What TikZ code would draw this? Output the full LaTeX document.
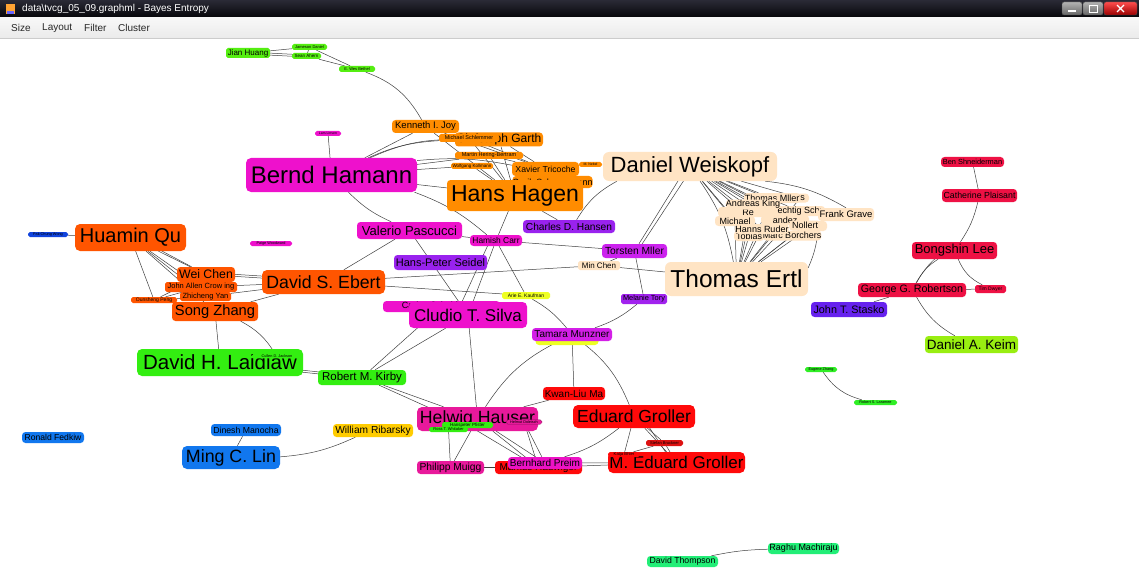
\documentclass[tikz,border=0pt]{standalone}
\usepackage{fontspec}
\setmainfont{Liberation Sans}
\usetikzlibrary{backgrounds}
\pgfdeclarelayer{canvas}
\pgfdeclarelayer{links}
\pgfsetlayers{canvas,links,main}
\newcommand\fsz[1]{\fontsize{#1}{#1}\selectfont}

\definecolor{cOrange}{HTML}{FF8C00}
\definecolor{cRedOr}{HTML}{FF5500}
\definecolor{cMag}{HTML}{EE11CC}
\definecolor{cPink}{HTML}{E8199B}
\definecolor{cPurple}{HTML}{9922EE}
\definecolor{cViolet}{HTML}{CC22EE}
\definecolor{cPeach}{HTML}{FFE4C4}
\definecolor{cGreen}{HTML}{33EE11}
\definecolor{cGreenB}{HTML}{55EE11}
\definecolor{cSpring}{HTML}{22EE77}
\definecolor{cRed}{HTML}{FF0A0A}
\definecolor{cDarkRed}{HTML}{DD1111}
\definecolor{cCrimson}{HTML}{EE1144}
\definecolor{cLime}{HTML}{99EE11}
\definecolor{cBlue}{HTML}{1177EE}
\definecolor{cNavy}{HTML}{1144DD}
\definecolor{cIndigo}{HTML}{6622EE}
\definecolor{cGold}{HTML}{FFCC00}
\definecolor{cYellow}{HTML}{EEFF22}
\definecolor{cEdge}{HTML}{404040}
\definecolor{cBarTop}{HTML}{2A2A36}
\definecolor{cBarBot}{HTML}{050508}

\begin{document}
\begin{tikzpicture}[x=1pt,y=-1pt,
  box/.style={rounded corners=3.5pt, inner sep=0pt, text=black, align=center},
  sbox/.style={box, rounded corners=1.8pt},
  ed/.style={draw=cEdge, line width=0.5pt},
  menu/.style={font=\fsz{10}, text=black!85, anchor=west, inner sep=0pt},
]
\useasboundingbox (0,0) rectangle (1139,572);
\begin{pgfonlayer}{canvas}
  \fill[white] (0,0) rectangle (1139,572);
\end{pgfonlayer}

% ---------- window frame ----------
\shade[top color=cBarTop, bottom color=cBarBot] (0,0) rectangle (1139,18);
\node[inner sep=0pt, anchor=west, text=white, font=\fsz{10}] (wtitle) at (22,9) {data\textbackslash tvcg\_05\_09.graphml - Bayes Entropy};
\fill[cOrange!80] (6,4) rectangle (15,14);
\fill[blue!60] (7,11) rectangle (14,14);
\shade[top color=black!30, bottom color=black!60, rounded corners=2pt, draw=black!70] (1062,2) rectangle (1082,15);
\shade[top color=black!30, bottom color=black!60, rounded corners=2pt, draw=black!70] (1083,2) rectangle (1103,15);
\shade[top color=red!70, bottom color=red!60!black, rounded corners=2pt, draw=black!70] (1104,2) rectangle (1137,15);
\draw[white, line width=1.2pt] (1068,11) -- (1076,11);
\draw[white, line width=0.8pt] (1089,5) rectangle (1097,12);
\draw[white, line width=1.2pt] (1117,5) -- (1124,12) (1117,12) -- (1124,5);
\shade[top color=white!97!black, bottom color=black!8] (0,18) rectangle (1139,38);
\draw[black!20] (0,38) -- (1139,38);
\node[menu] (mSize) at (11,28) {Size};
\node[menu] (mLayout) at (42,28) {Layout};
\node[menu] (mFilter) at (84,28) {Filter};
\node[menu] (mCluster) at (118,28) {Cluster};

% ---------- nodes ----------
% top green group
\node[sbox, fill=cGreenB, minimum width=44pt, minimum height=10pt, font=\fsz{8}] (jian) at (248,53) {Jian Huang};
\node[sbox, fill=cGreenB, minimum width=35pt, minimum height=6pt, font=\fsz{4}] (jameson) at (309.5,47) {Jameson Daniel};
\node[sbox, fill=cGreenB, minimum width=29pt, minimum height=6pt, font=\fsz{4.5}] (ahern) at (306.5,56) {Sean Ahern};
\node[sbox, fill=cGreenB, minimum width=36pt, minimum height=6pt, font=\fsz{4}] (bethel) at (357,69) {E. Wes Bethel};

% orange group
\node[box, fill=cOrange, minimum width=67pt, minimum height=13pt, font=\fsz{9.5}] (joy) at (425.5,126.5) {Kenneth I. Joy};
\node[box, fill=cOrange, minimum width=88pt, minimum height=14pt, font=\fsz{12}] (garth) at (499,139.5) {Christoph Garth};
\node[sbox, fill=cOrange, minimum width=60pt, minimum height=8pt, font=\fsz{5.5}] (schlemmer) at (469,138) {Michael Schlemmer};
\node[sbox, fill=cOrange, minimum width=68pt, minimum height=7pt, font=\fsz{5.5}] (hering) at (489,155.5) {Martin Hering-Bertram};
\node[sbox, fill=cOrange, minimum width=42pt, minimum height=6pt, font=\fsz{4.5}] (kollmann) at (472,166) {Wolfgang Kollmann};
\node[box, fill=cOrange, minimum width=79pt, minimum height=12pt, font=\fsz{9}] (scheuer) at (552.5,182) {Gerik Scheuermann};
\node[box, fill=cOrange, minimum width=67pt, minimum height=14pt, font=\fsz{8.7}] (tricoche) at (545.5,169) {Xavier Tricoche};
\node[sbox, fill=cOrange, minimum width=23pt, minimum height=5pt, font=\fsz{3.5}] (nebel) at (590.5,164.5) {M. Nebel};
\node[box, fill=cOrange, minimum width=136pt, minimum height=31pt, font=\fsz{23}] (hagen) at (515,195.5) {Hans Hagen};

% magenta / purple centre
\node[sbox, fill=cMag, minimum width=26pt, minimum height=5pt, font=\fsz{3.5}] (linsen) at (328,133.5) {Lars Linsen};
\node[box, rounded corners=5pt, fill=cMag, minimum width=171pt, minimum height=34pt, font=\fsz{24}] (hamann) at (331.5,175) {Bernd Hamann};
\node[box, fill=cMag, minimum width=105pt, minimum height=17pt, font=\fsz{13}] (pascucci) at (409.5,230.5) {Valerio Pascucci};
\node[box, fill=cMag, minimum width=52pt, minimum height=11pt, font=\fsz{8.4}] (carr) at (496,240.5) {Hamish Carr};
\node[sbox, fill=cMag, minimum width=42pt, minimum height=5pt, font=\fsz{3.8}] (woodward) at (271,243.5) {Paige Woodward};
\node[box, fill=cPurple, minimum width=93pt, minimum height=15pt, font=\fsz{11}] (seidel) at (440.5,262.5) {Hans-Peter Seidel};
\node[box, fill=cPurple, minimum width=92pt, minimum height=13pt, font=\fsz{10.2}] (hansen) at (569,226.5) {Charles D. Hansen};
\node[box, fill=cViolet, minimum width=65pt, minimum height=14pt, font=\fsz{10.3}] (torsten) at (634.5,251) {Torsten Mller};
\node[sbox, fill=cPeach, minimum width=42pt, minimum height=9pt, font=\fsz{8}] (minchen) at (599,265.5) {Min Chen};
\node[sbox, fill=cYellow, minimum width=48pt, minimum height=7pt, font=\fsz{5}] (kaufman) at (526,295.5) {Arie E. Kaufman};
\node[sbox, fill=cPurple!85!cViolet, minimum width=46pt, minimum height=10pt, font=\fsz{7.4}] (melanie) at (644,299) {Melanie Tory};
\node[box, fill=cMag, minimum width=117pt, minimum height=11pt, font=\fsz{9}] (scheidegger) at (441.5,306.5) {Carlos Scheidegger};
\node[box, rounded corners=4.5pt, fill=cMag, minimum width=118pt, minimum height=26pt, font=\fsz{17}] (silva) at (468,315) {Cludio T. Silva};
\node[box, fill=cYellow, minimum width=63pt, minimum height=10pt] (ystrip) at (567,340) {};
\node[box, fill=cViolet!80!cMag, minimum width=80pt, minimum height=13pt, font=\fsz{10}] (tamara) at (572,334.5) {Tamara Munzner};

% peach group
\node[box, rounded corners=6pt, fill=cPeach, minimum width=174pt, minimum height=29pt, font=\fsz{22}] (weiskopf) at (690,166.5) {Daniel Weiskopf};
\node[box, fill=cPeach, minimum width=18pt, minimum height=9pt, font=\fsz{9}] (pus) at (800,198) {us};
\node[box, fill=cPeach, minimum width=56pt, minimum height=10pt, font=\fsz{9}] (pmueller) at (772,198) {Thomas Mller};
\node[box, fill=cPeach, minimum width=60pt, minimum height=10pt, font=\fsz{9}] (pre) at (748,212) {Re};
\node[box, fill=cPeach, minimum width=50pt, minimum height=10pt, font=\fsz{9}] (pschr) at (800,211) {echtig Schr};
\node[box, fill=cPeach, minimum width=56pt, minimum height=13pt, font=\fsz{9.5}] (pgrave) at (846,214.5) {Frank Grave};
\node[box, fill=cPeach, minimum width=48pt, minimum height=10pt, font=\fsz{9}] (pking) at (753,204.5) {Andreas King};
\node[box, fill=cPeach, minimum width=48pt, minimum height=10pt, font=\fsz{9}] (pdez) at (785,220) {andez};
\node[box, fill=cPeach, minimum width=40pt, minimum height=10pt, font=\fsz{9}] (pmich) at (735,221) {Michael};
\node[box, fill=cPeach, minimum width=30pt, minimum height=10pt, font=\fsz{9}] (pon) at (812,226) {on};
\node[box, fill=cPeach, minimum width=32pt, minimum height=10pt, font=\fsz{9}] (pnollert) at (805,225.5) {Nollert};
\node[box, fill=cPeach, minimum width=30pt, minimum height=10pt, font=\fsz{9}] (ptobias) at (749,236) {Tobias};
\node[box, fill=cPeach, minimum width=58pt, minimum height=10pt, font=\fsz{9}] (pborchers) at (792,235.5) {Marc Borchers};
\node[box, fill=cPeach, minimum width=52pt, minimum height=10pt, font=\fsz{9}] (pruder) at (762,229) {Hanns Ruder};
\node[box, rounded corners=6pt, fill=cPeach, minimum width=143pt, minimum height=34pt, font=\fsz{24.5}] (ertl) at (736.5,279) {Thomas Ertl};

% orange-red group
\node[box, rounded corners=5pt, fill=cRedOr, minimum width=111pt, minimum height=27pt, font=\fsz{20}] (huamin) at (130.5,237.5) {Huamin Qu};
\node[sbox, fill=cNavy, minimum width=40pt, minimum height=5pt, font=\fsz{3.8}] (pakchung) at (48,234.5) {Pak Chung Wong};
\node[box, fill=cRedOr, minimum width=58pt, minimum height=15pt, font=\fsz{12.3}] (weichen) at (206,274.5) {Wei Chen};
\node[sbox, fill=cRedOr, minimum width=72pt, minimum height=10pt, font=\fsz{7.5}] (johnallen) at (201,287) {John Allen Crow ing};
\node[sbox, fill=cRedOr, minimum width=51pt, minimum height=9pt, font=\fsz{7.5}] (zhicheng) at (205.5,296.5) {Zhicheng Yan};
\node[sbox, fill=cRedOr, minimum width=46pt, minimum height=6pt, font=\fsz{5}] (ounsheng) at (154,300) {Ounsheng Peng};
\node[box, fill=cRedOr, minimum width=86pt, minimum height=19pt, font=\fsz{14.7}] (songzhang) at (215,311.5) {Song Zhang};
\node[box, rounded corners=5pt, fill=cRedOr, minimum width=123pt, minimum height=24pt, font=\fsz{17.7}] (ebert) at (323.5,282) {David S. Ebert};

% green group left
\node[box, rounded corners=5pt, fill=cGreen, minimum width=166pt, minimum height=27pt, font=\fsz{20.5}] (laidlaw) at (220,362.5) {David H. Laidlaw};
\node[sbox, fill=cGreen, minimum width=50pt, minimum height=4.5pt, font=\fsz{3.8}] (cullen) at (277,356) {Cullen D. Jackson};
\node[box, fill=cGreen, minimum width=88pt, minimum height=15pt, font=\fsz{11.5}] (kirby) at (362,377.5) {Robert M. Kirby};

% lower centre
\node[box, fill=cRed, minimum width=62pt, minimum height=13pt, font=\fsz{10}] (kwan) at (574,393.5) {Kwan-Liu Ma};
\node[box, rounded corners=5pt, fill=cRed, minimum width=122pt, minimum height=23pt, font=\fsz{17.5}] (eduard) at (634,416.5) {Eduard Groller};
\node[box, rounded corners=5pt, fill=cPink, minimum width=121pt, minimum height=24pt, font=\fsz{17.7}] (hauser) at (477.5,419) {Helwig Hauser};
\node[sbox, fill=cGreen, minimum width=51pt, minimum height=6pt, font=\fsz{4.5}] (pfister) at (467.5,425) {Hanspeter Pfister};
\node[sbox, fill=cGreen, minimum width=39pt, minimum height=5pt, font=\fsz{4}] (whitaker) at (448.5,429.5) {Ross T. Whitaker};
\node[sbox, fill=cPink, draw=cPink!60!black, line width=0.3pt, minimum width=36pt, minimum height=4.5pt, font=\fsz{3.8}] (doleisch) at (524,422) {Helmut Doleisch};
\node[sbox, fill=cDarkRed, minimum width=37pt, minimum height=6pt, font=\fsz{4}] (stefan) at (664.5,443) {Stefan Bruckner};
\node[box, rounded corners=5pt, fill=cRed, minimum width=137pt, minimum height=21pt, font=\fsz{17}] (mgroller) at (676.5,462.5) {M. Eduard Groller};
\node[sbox, fill=cRed, minimum width=32pt, minimum height=5pt, font=\fsz{4.2}] (katja) at (624,454.5) {Katja Bhler};
\node[box, fill=cPink, minimum width=67pt, minimum height=13pt, font=\fsz{10.3}] (muigg) at (450.5,467.5) {Philipp Muigg};
\node[box, fill=cRed, minimum width=87pt, minimum height=13pt, font=\fsz{10}] (hadwiger) at (538.5,467.5) {Markus Hadwiger};
\node[box, fill=cMag!85!cPink, minimum width=74pt, minimum height=12pt, font=\fsz{10}] (preim) at (545,463) {Bernhard Preim};

% blue / gold
\node[box, fill=cGold, minimum width=80pt, minimum height=13pt, font=\fsz{10.2}] (william) at (373,430.5) {William Ribarsky};
\node[box, fill=cBlue, minimum width=62pt, minimum height=11pt, font=\fsz{8.6}] (ronald) at (53,437.5) {Ronald Fedkiw};
\node[box, fill=cBlue, minimum width=70pt, minimum height=12pt, font=\fsz{8.7}] (dinesh) at (246,430) {Dinesh Manocha};
\node[box, rounded corners=5pt, fill=cBlue, minimum width=98pt, minimum height=23pt, font=\fsz{17.8}] (ming) at (231,457.5) {Ming C. Lin};

% right group
\node[box, fill=cCrimson, minimum width=63pt, minimum height=10pt, font=\fsz{7.4}] (ben) at (972.5,162) {Ben Shneiderman};
\node[box, fill=cCrimson, minimum width=75pt, minimum height=13pt, font=\fsz{8.8}] (catherine) at (979.5,195.5) {Catherine Plaisant};
\node[box, fill=cCrimson, minimum width=85pt, minimum height=17pt, font=\fsz{13}] (bongshin) at (954.5,250.5) {Bongshin Lee};
\node[box, fill=cCrimson, minimum width=108pt, minimum height=14pt, font=\fsz{10.7}] (george) at (912,290) {George G. Robertson};
\node[sbox, fill=cCrimson, minimum width=31pt, minimum height=8pt, font=\fsz{5}] (tim) at (990.5,289) {Tim Dwyer};
\node[box, fill=cIndigo, minimum width=76pt, minimum height=15pt, font=\fsz{10.8}] (stasko) at (849,309.5) {John T. Stasko};
\node[box, fill=cLime, minimum width=93pt, minimum height=17pt, font=\fsz{13.5}] (keim) at (971.5,344.5) {Daniel A. Keim};

\node[sbox, fill=cGreen!80!cSpring, minimum width=32pt, minimum height=5pt, font=\fsz{3.8}] (eugene) at (821,369.5) {Eugene Zhang};
\node[sbox, fill=cGreen!80!cSpring, minimum width=43pt, minimum height=5pt, font=\fsz{3.8}] (laramee) at (875.5,402.5) {Robert S. Laramee};

\node[box, fill=cSpring, minimum width=71pt, minimum height=11pt, font=\fsz{8.7}] (thompson) at (682.5,561.5) {David Thompson};
\node[box, fill=cSpring, minimum width=71pt, minimum height=11pt, font=\fsz{9}] (raghu) at (803.5,548.5) {Raghu Machiraju};

% ---------- connectors ----------
\begin{pgfonlayer}{links}
% top green
\draw[ed] (jian) -- (jameson);
\draw[ed] ([yshift=-1pt]jian.center) -- ([yshift=-1pt]ahern.center);
\draw[ed] ([yshift=1pt]jian.center) -- ([yshift=1pt]ahern.center);
\draw[ed] (jameson) -- (ahern);
\draw[ed] (jameson) -- (bethel);
\draw[ed] (ahern) -- (bethel);
\draw[ed] (bethel) to[bend left=20] (joy);
% orange
\draw[ed] (linsen) -- (hamann);
\draw[ed] (joy) -- (hamann);
\draw[ed] (hamann) to[bend left=12] (garth);
\draw[ed] (hamann) to[bend left=10] (schlemmer);
\draw[ed] (hamann) -- (hering);
\draw[ed] (hamann) -- (kollmann);
\draw[ed] (hamann) -- (hagen);
\draw[ed] (hamann) to[bend left=8] (tricoche);
\draw[ed] (joy) -- (tricoche);
\draw[ed] (joy) -- (hagen);
\draw[ed] (garth) -- (hagen);
\draw[ed] (schlemmer) -- (hagen);
\draw[ed] (hering) -- (hagen);
\draw[ed] (kollmann) -- (hagen);
\draw[ed] (garth) -- (tricoche);
\draw[ed] (hering) -- (tricoche);
\draw[ed] (schlemmer) -- (tricoche);
\draw[ed] (nebel) -- (tricoche);
\draw[ed] (hagen) -- (scheuer);
% centre
\draw[ed] (hamann) to[bend right=10] (pascucci);
\draw[ed] (hamann) to[bend left=10] (carr);
\draw[ed] (hagen) -- (carr);
\draw[ed] (hagen) -- (hansen);
\draw[ed] (weiskopf) to[bend right=15] (hansen);
\draw[ed] ([xshift=-3pt]weiskopf.center) -- (torsten);
\draw[ed] ([xshift=3pt]weiskopf.center) -- ([xshift=3pt]torsten.center);
\draw[ed] (weiskopf) to[bend left=12] (ertl);
\draw[ed] ([xshift=-12pt]weiskopf.south east) to[bend left=12] (pgrave.north);
\draw[ed] (pgrave.south west) to[bend left=12] ([yshift=-6pt]ertl.north east);
\foreach \n in {pmueller,pking,pre,pschr,pdez,pmich,pnollert,ptobias,pborchers,pruder,pus,pon}{
  \draw[ed] (weiskopf) -- (\n);
  \draw[ed] (ertl) -- (\n);
}
\draw[ed] (minchen) -- (ertl);
\draw[ed] (minchen) -- (torsten);
\draw[ed] (ebert) -- (minchen);
\draw[ed] (ebert) -- (kaufman);
\draw[ed] (carr) -- (torsten);
\draw[ed] (pascucci) -- (carr);
\draw[ed] (carr) -- (kaufman);
\draw[ed] (carr) -- (silva);
\draw[ed] ([xshift=-6pt]carr.center) -- ([xshift=-12pt]silva.center);
\draw[ed] (pascucci) -- (silva);
\draw[ed] (pascucci) -- (ebert);
\draw[ed] (torsten) -- (melanie);
\draw[ed] (melanie) to[bend left=10] (tamara);
\draw[ed] (kaufman) to[bend left=10] (tamara);
\draw[ed] (tamara) -- (kwan);
\draw[ed] (tamara) to[bend left=15] (eduard);
\draw[ed] (tamara) to[bend right=15] (hauser);
\draw[ed] (silva) -- (kirby);
\draw[ed] (silva) -- (hauser);
\draw[ed] (scheidegger) -- (kirby);
\draw[ed] (kirby) -- (hauser);
\draw[ed] (kirby) -- (pfister);
\draw[ed] ([yshift=-1pt]laidlaw.center) -- ([yshift=-1pt]kirby.center);
\draw[ed] ([yshift=1pt]laidlaw.center) -- ([yshift=1pt]kirby.center);
\draw[ed] (songzhang) -- (laidlaw);
\draw[ed] (songzhang) to[bend left=15] (cullen);
% orange-red
\draw[ed] (huamin) -- (pakchung);
\draw[ed] (huamin) -- (weichen);
\draw[ed] ([xshift=6pt]huamin.center) -- (weichen);
\draw[ed] (huamin) -- (johnallen);
\draw[ed] (huamin) -- (zhicheng);
\draw[ed] (huamin) -- (ounsheng);
\draw[ed] (huamin) -- (songzhang);
\draw[ed] (weichen) -- (ebert);
\draw[ed] ([yshift=2pt]weichen.center) -- ([yshift=2pt]ebert.center);
\draw[ed] (johnallen) -- (ebert);
\draw[ed] (zhicheng) -- (ebert);
\draw[ed] (songzhang) -- (ebert);
\draw[ed] (ounsheng) -- (weichen);
\draw[ed] (ounsheng) -- (johnallen);
\draw[ed] (ounsheng) -- (zhicheng);
% lower centre
\draw[ed] (kwan) -- (hauser);
\draw[ed] (eduard) -- (mgroller);
\draw[ed] ([xshift=8pt]eduard.center) -- ([xshift=-4pt]mgroller.center);
\draw[ed] (eduard) -- (katja);
\draw[ed] (eduard) -- (stefan);
\draw[ed] (eduard) to[bend left=10] (preim);
\draw[ed] (mgroller) -- (preim);
\draw[ed] (mgroller) -- (hadwiger);
\draw[ed] (katja) -- (stefan);
\draw[ed] (mgroller) -- (stefan);
\draw[ed] (hauser) -- (muigg);
\draw[ed] (hauser) -- (preim);
\draw[ed] (hauser) -- (hadwiger);
\draw[ed] (doleisch) -- (preim);
\draw[ed] (doleisch) -- (hadwiger);
\draw[ed] (pfister) -- (hadwiger);
\draw[ed] (whitaker) -- (muigg);
\draw[ed, line width=1.6pt] (muigg) -- (hadwiger);
% blue
\draw[ed] (ming) -- (dinesh);
\draw[ed] (ming) to[bend right=10] (william);
% right
\draw[ed] (ben) -- (catherine);
\draw[ed] (catherine) to[bend left=10] (bongshin);
\draw[ed] (bongshin) to[bend right=15] (george);
\draw[ed] ([xshift=-10pt]bongshin.center) to[bend right=10] (george);
\draw[ed] (bongshin) to[bend right=20] (tim);
\draw[ed] (george) -- (tim);
\draw[ed] (george) -- (stasko);
\draw[ed] (george) to[bend right=15] (keim);
\draw[ed] (eugene) to[bend right=20] (laramee);
\draw[ed] (thompson) to[bend left=5] (raghu);
\end{pgfonlayer}
\end{tikzpicture}
\end{document}
